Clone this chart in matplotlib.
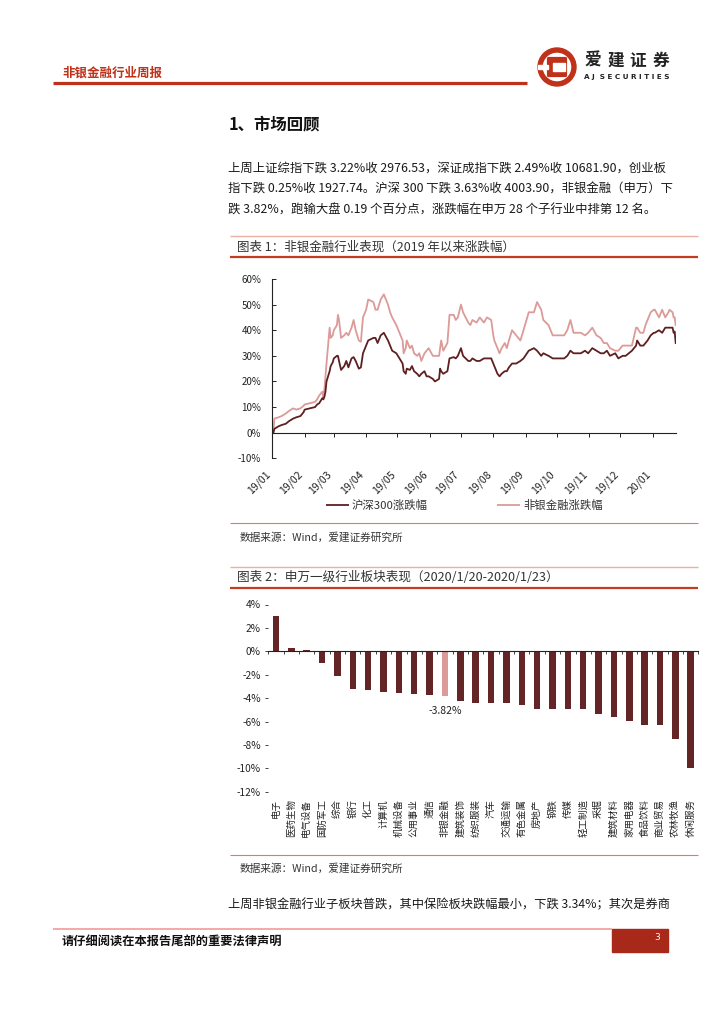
import matplotlib
matplotlib.use('Agg')
import matplotlib.pyplot as plt
import matplotlib.dates as mdates
import numpy as np
import pandas as pd
from matplotlib.patches import Rectangle, Circle, FancyBboxPatch
from matplotlib.lines import Line2D

plt.rcParams['font.family'] = ['Noto Sans CJK SC', 'DejaVu Sans']
plt.rcParams['axes.unicode_minus'] = False

# ---------------- data: chart 1 (cumulative change since 2019, %) ----------------
dates_1 = [
    '2019-01-02', '2019-01-03', '2019-01-07', '2019-01-10', '2019-01-14', '2019-01-17',
    '2019-01-21', '2019-01-24', '2019-01-28', '2019-01-31', '2019-02-01', '2019-02-11',
    '2019-02-13', '2019-02-15', '2019-02-18', '2019-02-19', '2019-02-20', '2019-02-21',
    '2019-02-22', '2019-02-25', '2019-02-26', '2019-02-28', '2019-03-01', '2019-03-04',
    '2019-03-05', '2019-03-06', '2019-03-08', '2019-03-11', '2019-03-13', '2019-03-15',
    '2019-03-18', '2019-03-20', '2019-03-22', '2019-03-25', '2019-03-27', '2019-03-29',
    '2019-04-01', '2019-04-03', '2019-04-08', '2019-04-10', '2019-04-12', '2019-04-15',
    '2019-04-18', '2019-04-22', '2019-04-24', '2019-04-26', '2019-04-30', '2019-05-06',
    '2019-05-07', '2019-05-09', '2019-05-10', '2019-05-13', '2019-05-15', '2019-05-17',
    '2019-05-20', '2019-05-22', '2019-05-24', '2019-05-27', '2019-05-29', '2019-05-31',
    '2019-06-04', '2019-06-06', '2019-06-10', '2019-06-11', '2019-06-12', '2019-06-14',
    '2019-06-18', '2019-06-20', '2019-06-24', '2019-06-26', '2019-06-28', '2019-07-01',
    '2019-07-03', '2019-07-08', '2019-07-10', '2019-07-12', '2019-07-16', '2019-07-19',
    '2019-07-23', '2019-07-26', '2019-07-30', '2019-08-01', '2019-08-02', '2019-08-05',
    '2019-08-07', '2019-08-09', '2019-08-12', '2019-08-14', '2019-08-16', '2019-08-19',
    '2019-08-21', '2019-08-23', '2019-08-27', '2019-08-30', '2019-09-04', '2019-09-09',
    '2019-09-12', '2019-09-16', '2019-09-18', '2019-09-23', '2019-09-27', '2019-10-08',
    '2019-10-11', '2019-10-14', '2019-10-17', '2019-10-24', '2019-10-28', '2019-10-31',
    '2019-11-04', '2019-11-08', '2019-11-12', '2019-11-15', '2019-11-18', '2019-11-21',
    '2019-11-26', '2019-11-29', '2019-12-03', '2019-12-06', '2019-12-09', '2019-12-12',
    '2019-12-16', '2019-12-17', '2019-12-20', '2019-12-23', '2019-12-25', '2019-12-27',
    '2019-12-30', '2020-01-02', '2020-01-03', '2020-01-07', '2020-01-10', '2020-01-13',
    '2020-01-16', '2020-01-17', '2020-01-20', '2020-01-21', '2020-01-22', '2020-01-23',
]
hs300_1 = [
    0.0, 1.5, 2.5, 3.0, 3.5, 4.5,
    5.5, 6.0, 6.5, 8.0, 9.0, 10.0,
    11.0, 11.5, 13.5, 13.0, 14.0, 16.0,
    20.0, 24.0, 26.0, 27.5, 29.0, 30.0,
    30.0, 28.0, 24.5, 26.0, 28.0, 25.5,
    29.0, 29.5, 28.0, 25.0, 25.5, 31.0,
    34.0, 36.0, 37.0, 37.0, 35.0, 38.0,
    39.0, 36.0, 34.0, 32.0, 31.0, 27.0,
    24.0, 23.0, 25.0, 24.5, 26.0, 24.0,
    23.0, 22.0, 23.0, 24.0, 22.0, 22.0,
    21.0, 20.0, 21.0, 25.0, 24.0, 23.0,
    24.0, 29.0, 29.5, 29.0, 30.0, 33.0,
    30.0, 28.0, 28.0, 29.0, 28.0, 28.0,
    29.0, 29.0, 29.0, 27.0, 26.0, 23.0,
    22.0, 23.0, 24.0, 24.0, 25.5, 27.0,
    27.0, 27.0, 28.0, 29.0, 32.0, 33.0,
    32.0, 30.0, 31.0, 30.0, 29.0, 29.0,
    30.0, 32.0, 31.0, 31.0, 32.0, 31.0,
    33.0, 32.0, 31.0, 31.0, 32.0, 30.0,
    31.0, 29.0, 30.0, 30.0, 31.0, 32.0,
    34.0, 36.0, 34.0, 34.0, 35.0, 36.0,
    38.0, 39.0, 39.0, 40.0, 39.0, 41.0,
    41.0, 41.0, 41.0, 39.0, 39.5, 35.0,
]
nonbank_1 = [
    0.0, 5.5, 6.0, 6.5, 7.5, 8.5,
    9.5, 9.0, 9.5, 10.5, 11.0, 12.0,
    13.0, 14.5, 16.0, 14.0, 17.0, 22.0,
    27.0, 41.0, 37.0, 38.0, 40.0, 42.0,
    46.0, 44.0, 37.0, 38.0, 39.0, 38.0,
    41.0, 44.0, 40.0, 36.0, 35.5, 45.0,
    48.0, 52.0, 51.0, 48.0, 48.0, 52.0,
    54.0, 50.0, 47.0, 45.0, 42.0, 36.0,
    31.0, 33.0, 36.0, 33.0, 34.0, 31.0,
    30.0, 31.0, 28.0, 31.0, 32.0, 33.0,
    30.0, 30.0, 30.0, 33.0, 36.0, 32.0,
    35.0, 46.0, 46.0, 44.0, 45.0, 50.0,
    47.0, 43.0, 42.0, 44.0, 43.0, 45.0,
    43.0, 45.0, 44.0, 38.0, 36.0, 33.0,
    31.0, 33.0, 35.0, 33.0, 36.0, 40.0,
    39.0, 38.0, 36.0, 40.0, 47.0, 47.0,
    51.0, 48.0, 44.0, 42.0, 38.0, 38.0,
    40.0, 44.0, 39.0, 39.0, 38.0, 39.0,
    41.0, 38.0, 37.0, 35.0, 35.0, 33.0,
    32.0, 32.0, 34.0, 34.0, 34.0, 34.0,
    41.0, 41.0, 39.0, 39.0, 42.0, 44.0,
    47.0, 48.0, 48.0, 45.0, 48.0, 45.0,
    47.0, 48.0, 47.0, 45.0, 45.0, 42.0,
]
legend_1 = ['沪深300涨跌幅', '非银金融涨跌幅']

# ---------------- data: chart 2 (SW level-1 industries, %) ----------------
industries_2 = ['电子', '医药生物', '电气设备', '国防军工', '综合', '银行', '化工', '计算机',
                '机械设备', '公用事业', '通信', '非银金融', '建筑装饰', '纺织服装', '汽车',
                '交通运输', '有色金属', '房地产', '钢铁', '传媒', '轻工制造', '采掘',
                '建筑材料', '家用电器', '食品饮料', '商业贸易', '农林牧渔', '休闲服务']
changes_2 = [3.04, 0.28, 0.10, -1.03, -2.08, -3.25, -3.34, -3.45,
             -3.56, -3.62, -3.76, -3.82, -4.22, -4.45, -4.45,
             -4.45, -4.59, -4.90, -4.90, -4.96, -4.96, -5.39,
             -5.65, -5.93, -6.33, -6.33, -7.50, -9.95]
highlight_2 = '非银金融'

# ---------------- page texts ----------------
header_title = '非银金融行业周报'
section_title = '1、市场回顾'
para_lines = [
    '上周上证综指下跌 3.22%收 2976.53，深证成指下跌 2.49%收 10681.90，创业板',
    '指下跌 0.25%收 1927.74。沪深 300 下跌 3.63%收 4003.90，非银金融（申万）下',
    '跌 3.82%，跑输大盘 0.19 个百分点，涨跌幅在申万 28 个子行业中排第 12 名。',
]
chart1_title = '图表 1：非银金融行业表现（2019 年以来涨跌幅）'
chart2_title = '图表 2：申万一级行业板块表现（2020/1/20-2020/1/23）'
source_text = '数据来源：Wind，爱建证券研究所'
bottom_line = '上周非银金融行业子板块普跌，其中保险板块跌幅最小，下跌 3.34%；其次是券商'
footer_text = '请仔细阅读在本报告尾部的重要法律声明'

DARK = '#5e1f20'
PINK = '#dc9a98'
BAR = '#632526'
RED = '#c0311a'

W, H = 724, 1024
fig = plt.figure(figsize=(W / 100, H / 100), dpi=100)
fig.patch.set_facecolor('white')


def fx(x):
    return x / W


def fy(y):
    return 1 - y / H


def txt(x, y, s, **kw):
    kw.setdefault('va', 'center')
    return fig.text(fx(x), fy(y), s, **kw)


def hline(x0, x1, y, color, lw):
    fig.add_artist(Line2D([fx(x0), fx(x1)], [fy(y), fy(y)], color=color, lw=lw,
                          transform=fig.transFigure, solid_capstyle='butt'))


# ---------------- header ----------------
txt(62, 73, header_title, fontsize=9, color=RED, weight='bold')
hline(53, 527, 83, RED, 2.3)

axl = fig.add_axes([fx(537), fy(87), 40 / W, 40 / H])
axl.set_xlim(-1, 1)
axl.set_ylim(-1, 1)
axl.set_aspect('equal')
axl.axis('off')
axl.add_patch(Circle((0, 0), 0.95, color=RED))
axl.add_patch(Circle((0, 0), 0.68, color='white'))
axl.add_patch(FancyBboxPatch((-0.42, -0.42), 0.84, 0.84, boxstyle='round,pad=0.05', color=RED))
axl.add_patch(Rectangle((-0.2, -0.2), 0.62, 0.4, color='white'))
axl.add_patch(Rectangle((-0.95, -0.12), 0.5, 0.24, color='white'))

for i, ch in enumerate('爱建证券'):
    txt(593 + i * 22.5, 61, ch, fontsize=12, weight='bold', color='#222222', ha='center')
txt(627, 77, 'A J  S E C U R I T I E S', fontsize=5.2, weight='bold', color='#222222',
    ha='center', family='DejaVu Sans')

# ---------------- section + paragraph ----------------
txt(229, 124, section_title, fontsize=11.8, weight='bold', color='#111111')
for i, line in enumerate(para_lines):
    txt(228, 168 + 21 * i, line, fontsize=8.9, color='#1a1a1a')

# ---------------- chart 1 ----------------
hline(230, 698, 236, '#eab0a4', 1.0)
txt(237, 247, chart1_title, fontsize=9, color='#333333')
hline(230, 698, 257, '#c23b22', 1.6)

ax1 = fig.add_axes([fx(272.3), fy(458.3), (675.7 - 272.3) / W, (458.3 - 279) / H])
d1 = pd.to_datetime(dates_1)
ax1.plot(d1, nonbank_1, color=PINK, lw=1.3, label=legend_1[1])
ax1.plot(d1, hs300_1, color=DARK, lw=1.3, label=legend_1[0])
ax1.set_xlim(pd.Timestamp('2019-01-01'), pd.Timestamp('2020-01-23'))
ax1.set_ylim(-10, 60)
yt = np.arange(-10, 61, 10)
ax1.set_yticks(yt)
ax1.set_yticklabels([f'{v}%' for v in yt])
for s in ['top', 'right']:
    ax1.spines[s].set_visible(False)
ax1.spines['left'].set_color('#222222')
ax1.spines['left'].set_linewidth(0.8)
ax1.spines['bottom'].set_position(('data', 0))
ax1.spines['bottom'].set_color('#222222')
ax1.spines['bottom'].set_linewidth(0.8)
ax1.xaxis.set_major_locator(mdates.MonthLocator())
ax1.xaxis.set_major_formatter(mdates.DateFormatter('%y/%m'))
ax1.tick_params(axis='y', direction='in', length=3, width=0.7, pad=8, labelsize=7,
                labelcolor='#222222', color='#222222')
ax1.tick_params(axis='x', direction='out', length=3, width=0.7, pad=23, labelsize=7.6,
                labelcolor='#222222', color='#222222')
for lab in ax1.get_xticklabels():
    lab.set_rotation(45)
    lab.set_ha('right')
    lab.set_va('top')
ax1.set_facecolor('none')

# legend (drawn as figure elements)
hline(326, 349, 505, DARK, 1.3)
txt(352, 505, legend_1[0], fontsize=8.2, color='#333333')
hline(497, 520, 505, PINK, 1.3)
txt(523, 505, legend_1[1], fontsize=8.2, color='#333333')

hline(230, 698, 523, '#e07a66', 0.8)
txt(240, 537, source_text, fontsize=7.7, color='#333333')

# ---------------- chart 2 ----------------
hline(230, 698, 567, '#eab0a4', 1.0)
txt(237, 577.5, chart2_title, fontsize=9.1, color='#333333')
hline(230, 698, 588, '#c23b22', 1.6)

ax2 = fig.add_axes([fx(268.3), fy(791.7), (698.4 - 268.3) / W, (791.7 - 604.5) / H])
xpos = np.arange(len(industries_2))
cols = [PINK if n == highlight_2 else BAR for n in industries_2]
ax2.bar(xpos, changes_2, width=0.42, color=cols, edgecolor='none')
ax2.set_xlim(-0.5, len(industries_2) - 0.5)
ax2.set_ylim(-12, 4)
yt2 = np.arange(-12, 5, 2)
ax2.set_yticks(yt2)
ax2.set_yticklabels([f'{v}%' for v in yt2])
for s in ['top', 'right', 'left']:
    ax2.spines[s].set_visible(False)
ax2.spines['bottom'].set_position(('data', 0))
ax2.spines['bottom'].set_color('#222222')
ax2.spines['bottom'].set_linewidth(0.8)
ax2.set_xticks(np.arange(-0.5, len(industries_2), 1))
ax2.set_xticklabels([])
ax2.tick_params(axis='x', direction='out', length=2.5, width=0.6, color='#222222')
ax2.tick_params(axis='y', direction='out', length=2.5, width=0.6, pad=3, labelsize=7.3,
                color='#222222', labelcolor='#222222')
ax2.set_facecolor('none')

for i, name in enumerate(industries_2):
    ax2.annotate(name, (i, -12), xytext=(0, -5.5), textcoords='offset points',
                 rotation=90, ha='center', va='top', fontsize=6.8, color='#222222',
                 annotation_clip=False)

hi = industries_2.index(highlight_2)
ax2.annotate(f'{changes_2[hi]:.2f}%', (hi, changes_2[hi]), xytext=(0, -10.5),
             textcoords='offset points', ha='center', va='center', fontsize=7.5,
             color='#222222')

hline(230, 698, 855, '#e07a66', 0.8)
txt(240, 868, source_text, fontsize=7.7, color='#333333')

# ---------------- bottom text + footer ----------------
txt(228, 905, bottom_line, fontsize=8.8, color='#1a1a1a')

hline(53, 612, 929, '#f2a2a0', 1.3)
fig.add_artist(Rectangle((fx(612), fy(952)), fx(668) - fx(612), (952 - 929) / H,
                         transform=fig.transFigure, color='#a8281a'))
txt(657, 937, '3', fontsize=6.5, color='white', ha='center', family='DejaVu Sans')
txt(62, 942, footer_text, fontsize=8.8, weight='bold', color='#111111')

fig.savefig('out.png', dpi=100, facecolor='white')
